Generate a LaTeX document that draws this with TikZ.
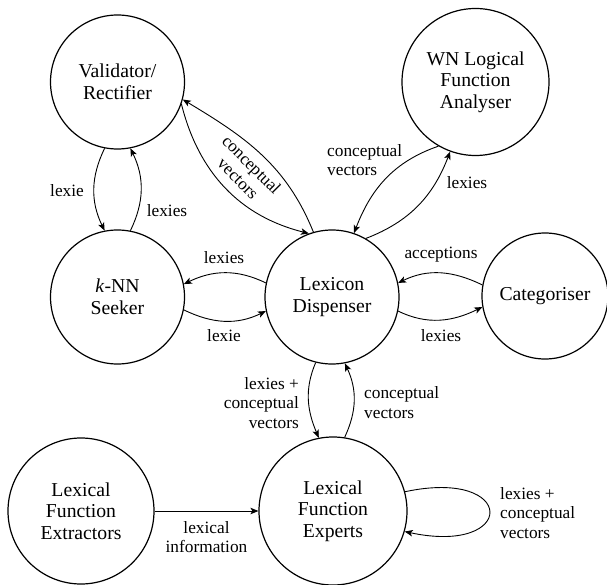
\documentclass[tikz,border=0pt]{standalone}
\usepackage{fontspec}
\setmainfont{Liberation Serif}
\usetikzlibrary{arrows.meta}
\begin{document}
\begin{tikzpicture}[x=1pt,y=1pt,
  state/.style={draw, circle, line width=1.2pt, inner sep=0pt, align=center, font=\fontsize{19.7}{21.7}\selectfont},
  arr/.style={-{Stealth[length=8pt,width=6.5pt,inset=2pt]}, line width=0.9pt},
  lbl/.style={font=\fontsize{17.3}{19.3}\selectfont, inner sep=0pt}]
\useasboundingbox (0,0) rectangle (607,-585);
% nodes
\node[state, minimum size=134pt] (V) at (117.5,-82) {Validator/\\Rectifier};
\node[state, minimum size=147pt] (W) at (475.5,-82) {WN Logical\\Function\\Analyser};
\node[state, minimum size=134pt] (K) at (117.5,-297) {\textit{k}-NN\\Seeker};
\node[state, minimum size=134pt] (L) at (332,-297) {Lexicon\\Dispenser};
\node[state, minimum size=126pt] (C) at (545,-296) {Categoriser};
\node[state, minimum size=146pt] (E) at (81,-511) {Lexical\\Function\\Extractors};
\node[state, minimum size=148pt] (X) at (333,-511) {Lexical\\Function\\Experts};
% edges
\draw[arr] (L.106) to[out=112, in=-31] (V.-15);
\draw[arr] (V.-19) to[out=-76, in=166] (L.110);
\draw[arr] (V.-101) to[out=-116, in=116] (K.101);
\draw[arr] (K.79) to[out=64, in=-64] (V.-79);
\draw[arr] (L.168) to[out=154, in=26] (K.11);
\draw[arr] (K.-11) to[out=-26, in=-154] (L.-168);
\draw[arr] (C.170) to[out=154, in=26] (L.12);
\draw[arr] (L.-12) to[out=-26, in=-154] (C.-170);
\draw[arr] (W.-120) to[out=-161, in=69] (L.71);
\draw[arr] (L.60) to[out=21, in=-111] (W.-110);
\draw[arr] (L.-104) to[out=-113, in=113] (X.101.5);
\draw[arr] (X.81) to[out=65, in=-65] (L.-79);
\draw[arr] (E) -- (X);
\draw[arr] (X.15) .. controls +(12:115) and +(-12:115) .. (X.-16);
% labels
\node[lbl] (l1) at (67,-191) {lexie};
\node[lbl] (l2) at (167,-211) {lexies};
\node[lbl, rotate=-45, align=center] (l3) at (245,-171.5) {conceptual\\vectors};
\node[lbl, anchor=west, align=left] (l4) at (327,-160) {conceptual\\vectors};
\node[lbl] (l5) at (467,-183) {lexies};
\node[lbl] (l6) at (224,-258) {lexies};
\node[lbl] (l7) at (224,-336) {lexie};
\node[lbl] (l8) at (441,-255) {acceptions};
\node[lbl] (l9) at (441,-336) {lexies};
\node[lbl, anchor=east, align=right] (l10) at (299,-403) {lexies +\\conceptual\\vectors};
\node[lbl, anchor=west, align=left] (l11) at (364,-402.5) {conceptual\\vectors};
\node[lbl, align=center] (l12) at (206.5,-537) {lexical\\information};
\node[lbl, anchor=west, align=left] (l13) at (500,-513) {lexies +\\conceptual\\vectors};
\end{tikzpicture}
\end{document}
